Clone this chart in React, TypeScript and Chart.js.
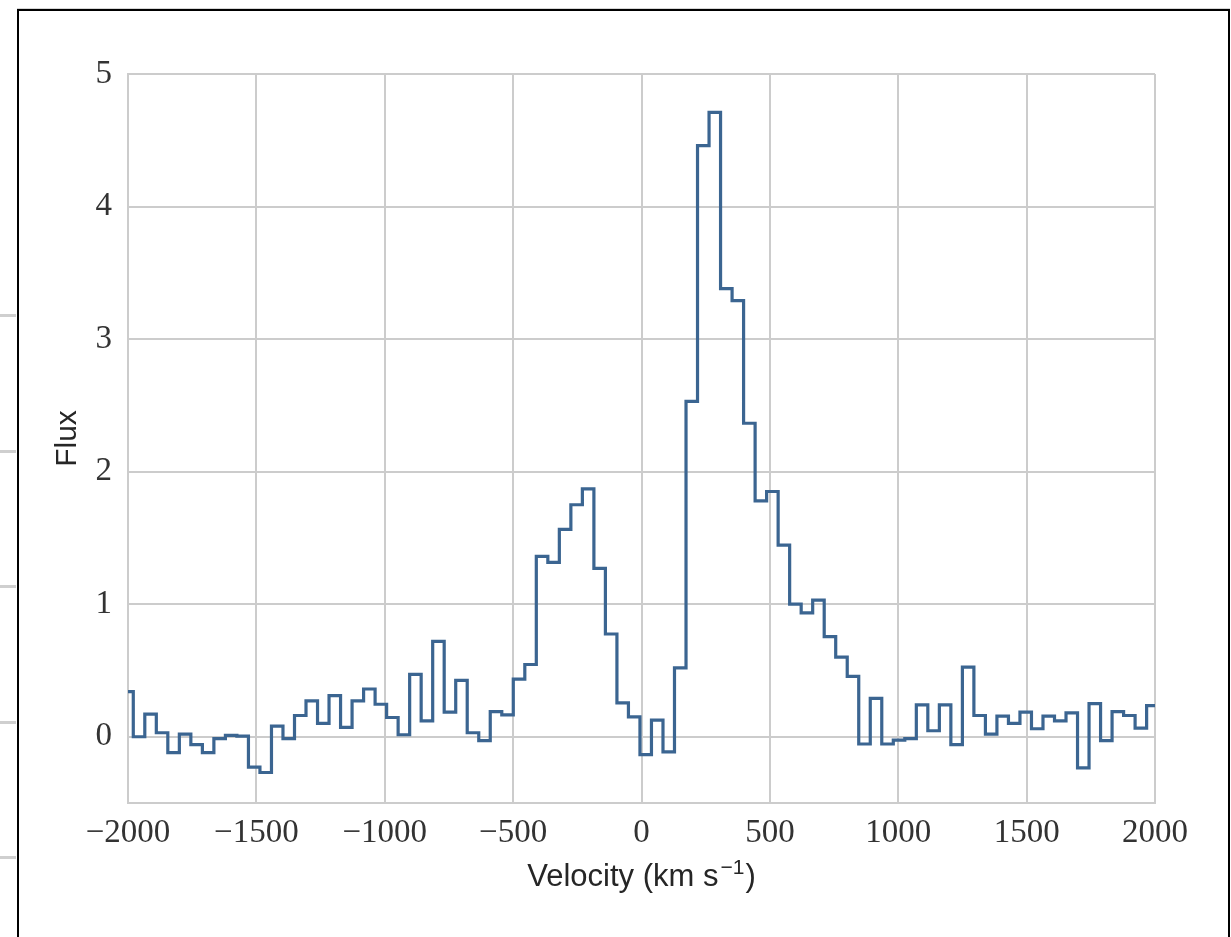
import React, { useEffect, useRef } from "react";
import { Chart, registerables } from "chart.js";

Chart.register(...registerables);

// Bin edges in velocity (km/s) (91 edges, 90 bins)
const binEdges: number[] = [
  -2024.3, -1979.4, -1934.6, -1889.7, -1844.9, -1800.0, -1755.2, -1710.3, -1665.5, -1620.6,
  -1575.8, -1530.9, -1486.1, -1441.2, -1396.4, -1351.5, -1306.7, -1261.8, -1217.0, -1172.1,
  -1127.3, -1082.4, -1037.6, -992.7, -947.9, -903.0, -858.2, -813.3, -768.5, -723.6,
  -678.8, -633.9, -589.1, -544.2, -499.4, -454.5, -409.7, -364.8, -320.0, -275.1,
  -230.3, -185.4, -140.6, -95.7, -50.9, -6.0, 38.8, 83.7, 128.5, 173.4,
  218.2, 263.1, 307.9, 352.8, 397.6, 442.5, 487.3, 532.2, 577.0, 621.9,
  666.7, 711.6, 756.4, 801.3, 846.1, 891.0, 935.8, 980.7, 1025.5, 1070.4,
  1115.2, 1160.1, 1204.9, 1249.8, 1294.6, 1339.5, 1384.3, 1429.2, 1474.0, 1518.9,
  1563.7, 1608.6, 1653.4, 1698.3, 1743.1, 1788.0, 1832.8, 1877.7, 1922.5, 1967.4,
  2012.2,
];

// Flux per bin
const fluxValues: number[] = [
  0.34, 0.0, 0.17, 0.03, -0.12, 0.02, -0.06, -0.12, -0.015, 0.01,
  0.005, -0.23, -0.27, 0.08, -0.015, 0.16, 0.27, 0.1, 0.31, 0.07,
  0.27, 0.36, 0.245, 0.145, 0.015, 0.47, 0.12, 0.72, 0.185, 0.425,
  0.03, -0.03, 0.19, 0.165, 0.435, 0.545, 1.36, 1.315, 1.565, 1.75,
  1.87, 1.27, 0.775, 0.255, 0.15, -0.135, 0.125, -0.115, 0.52, 2.53,
  4.46, 4.71, 3.38, 3.29, 2.365, 1.78, 1.85, 1.445, 1.0, 0.935,
  1.03, 0.755, 0.6, 0.455, -0.055, 0.29, -0.055, -0.025, -0.015, 0.24,
  0.045, 0.24, -0.06, 0.525, 0.16, 0.02, 0.155, 0.1, 0.185, 0.06,
  0.155, 0.12, 0.18, -0.235, 0.25, -0.03, 0.19, 0.16, 0.065, 0.235,
];

const xTicks: number[] = [-2000, -1500, -1000, -500, 0, 500, 1000, 1500, 2000];
const yTicks: number[] = [0, 1, 2, 3, 4, 5];

const xTitleMain = "Velocity (km s";
const xTitleSup = "\u22121";
const xTitleEnd = ")";
const yTitle = "Flux";

const W = 1231;
const H = 937;

const fmt = (v: number) => (v < 0 ? "\u2212" + Math.abs(v) : String(v));

const xTitlePlugin = {
  id: "xTitlePlugin",
  afterDraw(chart: any) {
    const { ctx, chartArea } = chart;
    ctx.save();
    ctx.fillStyle = "#262626";
    ctx.textBaseline = "alphabetic";
    ctx.textAlign = "left";
    const mainFont = '31px "Liberation Sans", Arial, sans-serif';
    const supFont = '21px "Liberation Sans", Arial, sans-serif';
    ctx.font = mainFont;
    const w1 = ctx.measureText(xTitleMain).width;
    const w3 = ctx.measureText(xTitleEnd).width;
    ctx.font = supFont;
    const w2 = ctx.measureText(xTitleSup).width;
    const total = w1 + 2 + w2 + 1 + w3;
    const cx = (chartArea.left + chartArea.right) / 2;
    let x = cx - total / 2;
    const base = 886;
    ctx.font = mainFont;
    ctx.fillText(xTitleMain, x, base);
    x += w1 + 2;
    ctx.font = supFont;
    ctx.fillText(xTitleSup, x, base - 12);
    x += w2 + 1;
    ctx.font = mainFont;
    ctx.fillText(xTitleEnd, x, base);
    ctx.restore();
  },
};

export default function App() {
  const ref = useRef<HTMLCanvasElement | null>(null);

  useEffect(() => {
    if (!ref.current) return;
    const points = fluxValues.map((v, i) => ({ x: binEdges[i], y: v }));
    points.push({ x: binEdges[binEdges.length - 1], y: fluxValues[fluxValues.length - 1] });

    const tickFont = { family: '"Liberation Serif", "DejaVu Serif", serif', size: 33 };
    const gridOpts = { color: "#cccccc", lineWidth: 2, drawTicks: false };
    const borderOpts = { display: true, color: "#cccccc", width: 2 };

    const chart = new Chart(ref.current, {
      type: "line",
      data: {
        datasets: [
          {
            data: points,
            borderColor: "#3b6591",
            borderWidth: 3.2,
            pointRadius: 0,
            stepped: true,
            fill: false,
            tension: 0,
          },
        ],
      },
      options: {
        responsive: false,
        animation: false,
        devicePixelRatio: 1,
        layout: { padding: { left: 0, top: 74, right: 76, bottom: 0 } },
        plugins: { legend: { display: false }, tooltip: { enabled: false } },
        scales: {
          x: {
            type: "linear",
            min: -2000,
            max: 2000,
            afterBuildTicks: (s: any) => {
              s.ticks = xTicks.map((v) => ({ value: v }));
            },
            afterFit: (s: any) => {
              s.height = 134;
            },
            grid: gridOpts,
            border: borderOpts,
            ticks: {
              font: tickFont,
              color: "#333333",
              padding: 11,
              maxRotation: 0,
              autoSkip: false,
              callback: (v: any) => fmt(Number(v)),
            },
          },
          y: {
            type: "linear",
            min: -0.5,
            max: 5,
            afterBuildTicks: (s: any) => {
              s.ticks = yTicks.map((v) => ({ value: v }));
            },
            afterFit: (s: any) => {
              s.width = 128;
            },
            grid: gridOpts,
            border: borderOpts,
            ticks: {
              font: tickFont,
              color: "#333333",
              padding: 16,
              autoSkip: false,
              callback: (v: any) => fmt(Number(v)),
            },
            title: {
              display: true,
              text: yTitle,
              color: "#262626",
              font: { family: '"Liberation Sans", Arial, sans-serif', size: 30 },
              padding: { top: 50, bottom: 0 },
            },
          },
        },
      },
      plugins: [xTitlePlugin],
    });
    return () => chart.destroy();
  }, []);

  const leftTicks = [315, 451, 586, 722, 857];

  return (
    <div
      style={{
        position: "absolute",
        left: 0,
        top: 0,
        width: W,
        height: H,
        overflow: "hidden",
        background: "#ffffff",
      }}
    >
      <div
        style={{
          position: "absolute",
          left: 17,
          top: 8,
          width: 1213,
          height: 1,
          background: "#d6d6d6",
        }}
      />
      <div
        style={{
          position: "absolute",
          left: 17,
          top: 9,
          width: 1213,
          height: 1100,
          boxSizing: "border-box",
          border: "2px solid #000000",
        }}
      />
      {leftTicks.map((y) => (
        <div
          key={y}
          style={{
            position: "absolute",
            left: 0,
            top: y - 1,
            width: 16,
            height: 3,
            background: "#cfcfcf",
          }}
        />
      ))}
      <canvas
        ref={ref}
        width={W}
        height={H}
        style={{ position: "absolute", left: 0, top: 0, width: W, height: H, display: "block" }}
      />
    </div>
  );
}
